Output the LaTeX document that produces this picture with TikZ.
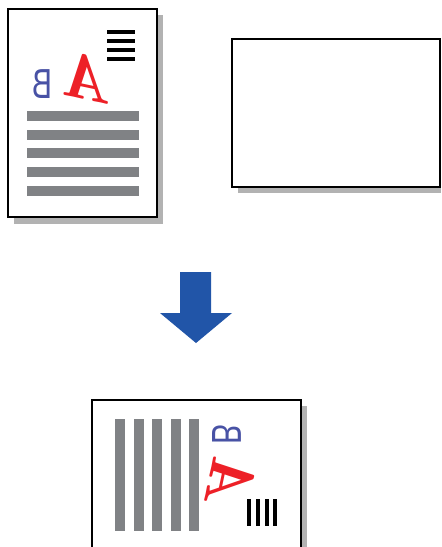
\documentclass[tikz,border=0pt]{standalone}
\usepackage{amsmath,amssymb}
\usepackage{fontspec}
\usepackage{tikz}
\usetikzlibrary{shapes,arrows,positioning,calc}

\newfontfamily\letterfont{Liberation Sans}

\definecolor{barGray}{RGB}{128,130,133}
\definecolor{shadowGray}{RGB}{178,178,178}
\definecolor{markBlue}{RGB}{72,82,165}
\definecolor{markRed}{RGB}{237,32,39}
\definecolor{arrowBlue}{RGB}{33,85,168}

\tikzset{
    sheet/.style={draw, fill=white, line width=1.4pt},
    letterb/.style={markBlue, inner sep=0pt, font=\letterfont\fontsize{21}{21}\selectfont},
    lettera/.style={markRed, inner sep=0pt, font=\bfseries\itshape\fontsize{31}{31}\selectfont}
}

\begin{document}
\begin{tikzpicture}[x=0.5pt, y=-0.5pt]
    \useasboundingbox (0,0) rectangle (441,547);

    % Original page with shadow
    \fill[shadowGray] (14,15) rectangle (163,224);
    \draw[sheet] (8,9) rectangle (157,217);
    \foreach \y in {30,39,48,57}
        \fill (107,\y) rectangle (135,\y+4);
    \foreach \y in {111,130,148,167,186}
        \fill[barGray] (27,\y) rectangle (139,\y+10);
    \node[letterb, xscale=-0.72] (origB) at (42.5,84) {B};
    \node[lettera, rotate=-12, xscale=-1] (origA) at (91,78) {A};

    % Blank sheet
    \fill[shadowGray] (238,45) rectangle (441,193);
    \draw[sheet] (232,39) rectangle (440,187);

    % Arrow
    \fill[arrowBlue] (180,272) -- (211,272) -- (211,313) -- (232,313) -- (196,343)
        -- (160,313) -- (180,313) -- cycle;

    % Copy, turned
    \fill[shadowGray] (97,406) rectangle (307,550);
    \draw[sheet] (92,400) rectangle (301,560);
    \foreach \x in {115,134,152,171,189}
        \fill[barGray] (\x,419) rectangle (\x+10,531);
    \foreach \x in {247,256,265,273}
        \fill (\x,499) rectangle (\x+4,526);
    \node[letterb, rotate=-90, xscale=-0.72] (copyB) at (227,434.5) {B};
    \node[lettera, rotate=-102, xscale=-1] (copyA) at (231,484) {A};
\end{tikzpicture}
\end{document}
